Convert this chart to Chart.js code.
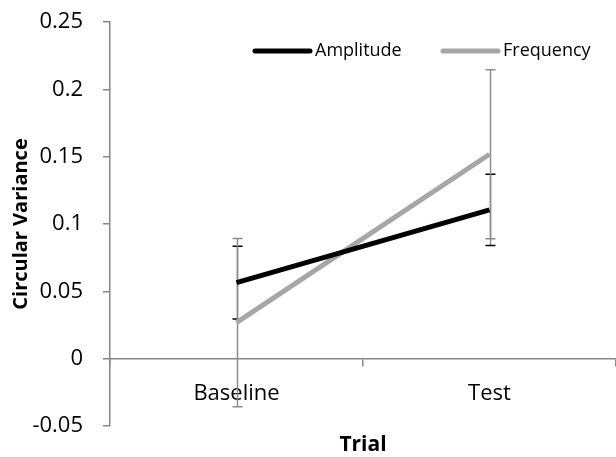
<!DOCTYPE html>
<html>
<head>
<meta charset="utf-8">
<script src="https://cdn.jsdelivr.net/npm/chart.js@4/dist/chart.umd.min.js"></script>
<style>
  html, body { margin: 0; padding: 0; background: #fff; }
  #wrap { width: 616px; height: 457px; }
</style>
</head>
<body>
<div id="wrap"><canvas id="chart-cv"></canvas></div>
<script>
// values
var trials = ['Baseline', 'Test'];
var amplitude = [0.0565, 0.1105];
var frequency = [0.0268, 0.1518];
var amplitudeErr = [0.027, 0.0265];
var frequencyErr = [0.0625, 0.0627];
var yTicks = [-0.05, 0, 0.05, 0.1, 0.15, 0.2, 0.25];

var axisGrey = '#868686';
var fontFam = "'Open Sans', sans-serif";

// error bars, drawn under the lines
var errorBars = {
  id: 'errorBars',
  beforeDatasetsDraw: function(chart) {
    var ctx = chart.ctx;
    var ys = chart.scales.y;
    chart.data.datasets.forEach(function(ds, i) {
      var meta = chart.getDatasetMeta(i);
      ctx.save();
      meta.data.forEach(function(pt, j) {
        var v = ds.data[j], e = ds.errors[j];
        var x = Math.round(pt.x) + 0.5;
        var yTop = ys.getPixelForValue(v + e);
        var yBot = ys.getPixelForValue(v - e);
        ctx.strokeStyle = '#8c8c8c';
        ctx.lineWidth = 1.5;
        ctx.beginPath();
        ctx.moveTo(x, yTop);
        ctx.lineTo(x, yBot);
        ctx.stroke();
        ctx.strokeStyle = ds.capColor;
        ctx.beginPath();
        ctx.moveTo(x - 5, yTop); ctx.lineTo(x + 5, yTop);
        ctx.moveTo(x - 5, yBot); ctx.lineTo(x + 5, yBot);
        ctx.stroke();
      });
      ctx.restore();
    });
  }
};

// legend inside the plot and the x title under it
var extras = {
  id: 'extras',
  afterDraw: function(chart) {
    var ctx = chart.ctx;
    var area = chart.chartArea;
    ctx.save();
    var items = [
      { ds: chart.data.datasets[0], x: 255 },
      { ds: chart.data.datasets[1], x: 443 }
    ];
    ctx.lineCap = 'round';
    ctx.font = '18px ' + fontFam;
    ctx.textBaseline = 'middle';
    ctx.fillStyle = '#000';
    items.forEach(function(it) {
      ctx.strokeStyle = it.ds.borderColor;
      ctx.lineWidth = 5;
      ctx.beginPath();
      ctx.moveTo(it.x, 51);
      ctx.lineTo(it.x + 55, 51);
      ctx.stroke();
      ctx.fillText(it.ds.label, it.x + 60, 51);
    });
    ctx.font = 'bold 21px ' + fontFam;
    ctx.textAlign = 'center';
    ctx.fillText('Trial', (area.left + area.right) / 2, 445);
    ctx.restore();
  }
};

var ctx = document.getElementById('chart-cv').getContext('2d');
var chart = new Chart(ctx, {
  type: 'line',
  data: {
    labels: trials,
    datasets: [{
      label: 'Amplitude',
      data: amplitude,
      errors: amplitudeErr,
      capColor: '#000',
      borderColor: '#000',
      backgroundColor: '#000',
      borderWidth: 5,
      pointRadius: 0
    }, {
      label: 'Frequency',
      data: frequency,
      errors: frequencyErr,
      capColor: '#8c8c8c',
      borderColor: '#a6a6a6',
      backgroundColor: '#a6a6a6',
      borderWidth: 5,
      pointRadius: 0
    }]
  },
  options: {
    responsive: true,
    maintainAspectRatio: false,
    animation: false,
    layout: { padding: { top: 22, bottom: 31, left: 0, right: 0 } },
    plugins: {
      legend: { display: false },
      tooltip: { enabled: false }
    },
    scales: {
      x: {
        position: { y: 0 },
        offset: true,
        grid: { offset: true, drawOnChartArea: false, drawTicks: true, tickLength: 7, color: axisGrey, lineWidth: 1.5 },
        border: { display: true, color: axisGrey, width: 1.5 },
        ticks: { color: '#000', padding: 15, font: { family: fontFam, size: 22 } }
      },
      y: {
        min: -0.05,
        max: 0.25,
        afterFit: function(scale) {
          scale.width = 110;
          scale.paddingTop = 0;
          scale.paddingBottom = 0;
        },
        afterBuildTicks: function(scale) {
          scale.ticks = yTicks.map(function(v) { return { value: v }; });
        },
        grid: { drawOnChartArea: false, drawTicks: true, tickLength: 7, color: axisGrey, lineWidth: 1.5 },
        border: { display: true, color: axisGrey, width: 1.5 },
        ticks: {
          color: '#000',
          padding: 20,
          font: { family: fontFam, size: 22 },
          callback: function(v) { return String(+v.toFixed(2)); }
        },
        title: {
          display: true,
          text: 'Circular Variance',
          color: '#000',
          padding: { top: 9, bottom: 0 },
          font: { family: fontFam, size: 20, weight: 'bold' }
        }
      }
    }
  },
  plugins: [errorBars, extras]
});
</script>
</body>
</html>
